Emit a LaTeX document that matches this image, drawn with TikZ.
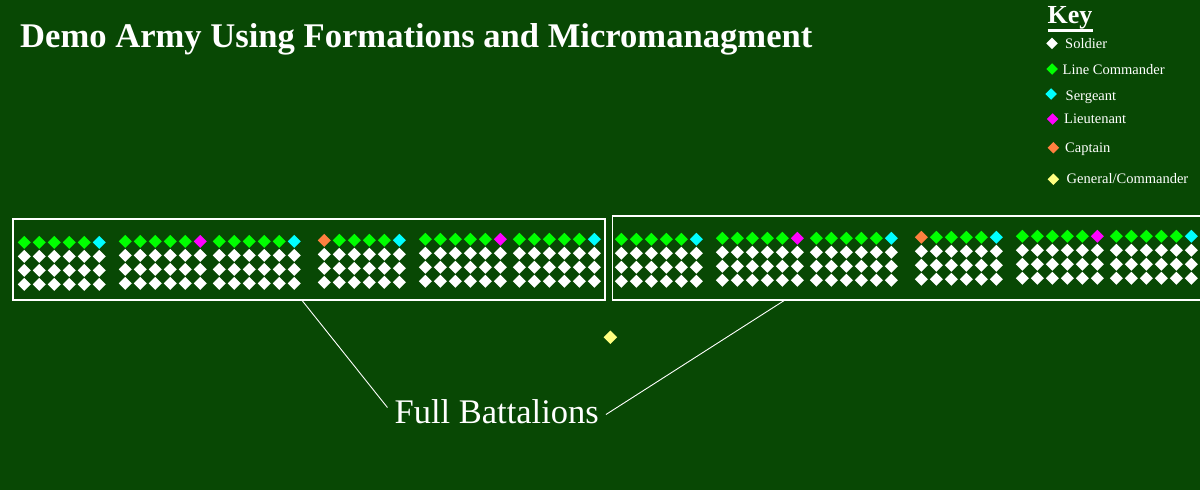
\documentclass[tikz,border=0pt]{standalone}
\usepackage{fontspec}
\setmainfont{Liberation Serif}
\usetikzlibrary{shapes.geometric}

\definecolor{field}{RGB}{8,72,4}
\definecolor{lcgreen}{RGB}{0,255,0}
\definecolor{sgcyan}{RGB}{0,255,255}
\definecolor{ltmagenta}{RGB}{255,0,255}
\definecolor{cporange}{RGB}{255,128,64}
\definecolor{gnyellow}{RGB}{255,255,128}

\tikzset{
  unit/.style={diamond, inner sep=0pt, outer sep=0pt, minimum width=13pt, minimum height=13pt},
  soldier/.style={fill=white},
  linecmd/.style={fill=lcgreen},
  sergeant/.style={fill=sgcyan},
  lieutenant/.style={fill=ltmagenta},
  captain/.style={fill=cporange},
  general/.style={fill=gnyellow},
  frame/.style={draw=white, line width=1.6pt},
  pointer/.style={draw=white, line width=0.9pt}
}

\begin{document}
\begin{tikzpicture}[x=1pt,y=-1pt]

        \useasboundingbox (0,0) rectangle (1200,490);
        \fill[field] (0,0) rectangle (1200,490);
        \clip (0,0) rectangle (1200,490);

        \begin{scope}[every node/.style={text=white, inner sep=0pt, anchor=base west}]
          \node[font=\fontsize{34.6}{38}\selectfont\bfseries] (title) at (20,47.5)
            {Demo Army Using Formations and Micromanagment};
          \node[font=\fontsize{26}{30}\selectfont\bfseries] (key) at (1047.5,23) {Key};
          \node[font=\fontsize{14.5}{17}\selectfont] (ksol) at (1065,48.5) {Soldier};
          \node[font=\fontsize{14.5}{17}\selectfont] (klc)  at (1062.5,74) {Line Commander};
          \node[font=\fontsize{14.5}{17}\selectfont] (ksg)  at (1065.5,100) {Sergeant};
          \node[font=\fontsize{14.5}{17}\selectfont] (klt)  at (1064,123.5) {Lieutenant};
          \node[font=\fontsize{14.5}{17}\selectfont] (kcp)  at (1065,152) {Captain};
          \node[font=\fontsize{14.5}{17}\selectfont] (kgn)  at (1066.5,183) {General/Commander};
        \end{scope}
        \draw[white, line width=2.4pt] ([yshift=-1.5pt]key.south west) -- ([yshift=-1.5pt]key.south east);

        \begin{scope}[every node/.style={unit, minimum width=11.5pt, minimum height=11.5pt}]
          \node[soldier]    (dsol) at (1052,43.3)  {};
          \node[linecmd]    (dlc)  at (1052,69)    {};
          \node[sergeant]   (dsg)  at (1051,94)    {};
          \node[lieutenant] (dlt)  at (1052.7,119) {};
          \node[captain]    (dcp)  at (1053.3,147.7) {};
          \node[general]    (dgn)  at (1053.3,179.3) {};
        \end{scope}

        % two battalions of six formations each
        \node[frame, anchor=north west, minimum width=592pt, minimum height=81pt] (leftbat) at (12,218) {};
        \node[frame, anchor=north west, minimum width=600pt, minimum height=84pt] (rightbat) at (611.7,215.3) {};

        \foreach \g/\gx/\gy/\first/\last in {
            1/24.3/242.3/linecmd/sergeant, 2/125.3/241.3/linecmd/lieutenant,
            3/219.3/241.3/linecmd/sergeant, 4/324.3/240.3/captain/sergeant,
            5/425.3/239.3/linecmd/lieutenant, 6/519.3/239.3/linecmd/sergeant,
            7/621.3/239.3/linecmd/sergeant, 8/722.3/238.3/linecmd/lieutenant,
            9/816.3/238.3/linecmd/sergeant, 10/921.3/237.3/captain/sergeant,
            11/1022.3/236.3/linecmd/lieutenant, 12/1116.3/236.3/linecmd/sergeant}{
          \foreach \c in {1,...,6}{
            \ifnum\c=1 \def\rank{\first}\else\ifnum\c=6 \def\rank{\last}\else\def\rank{linecmd}\fi\fi
            \node[unit,\rank] (u\g-\c-0) at ({\gx+15*(\c-1)},\gy) {};
            \foreach \r in {1,2,3}
              \node[unit,soldier] (u\g-\c-\r) at ({\gx+15*(\c-1)},{\gy+14*\r}) {};
          }
        }

        \node[unit, general, minimum width=13.5pt, minimum height=13.5pt] (gen) at (610.3,337.3) {};

        \node[text=white, font=\fontsize{34.5}{40}\selectfont, inner xsep=7pt, inner ysep=0pt,
              anchor=base] (full) at (496.7,423.3) {Full Battalions};
        \coordinate (lfoot) at (301.3,299.5);
        \coordinate (rfoot) at (785,300);
        \draw[pointer] (lfoot) -- ([yshift=4pt]full.west);
        \draw[pointer] (rfoot) -- ([yshift=-3pt]full.east);

      \end{tikzpicture}
\end{document}
